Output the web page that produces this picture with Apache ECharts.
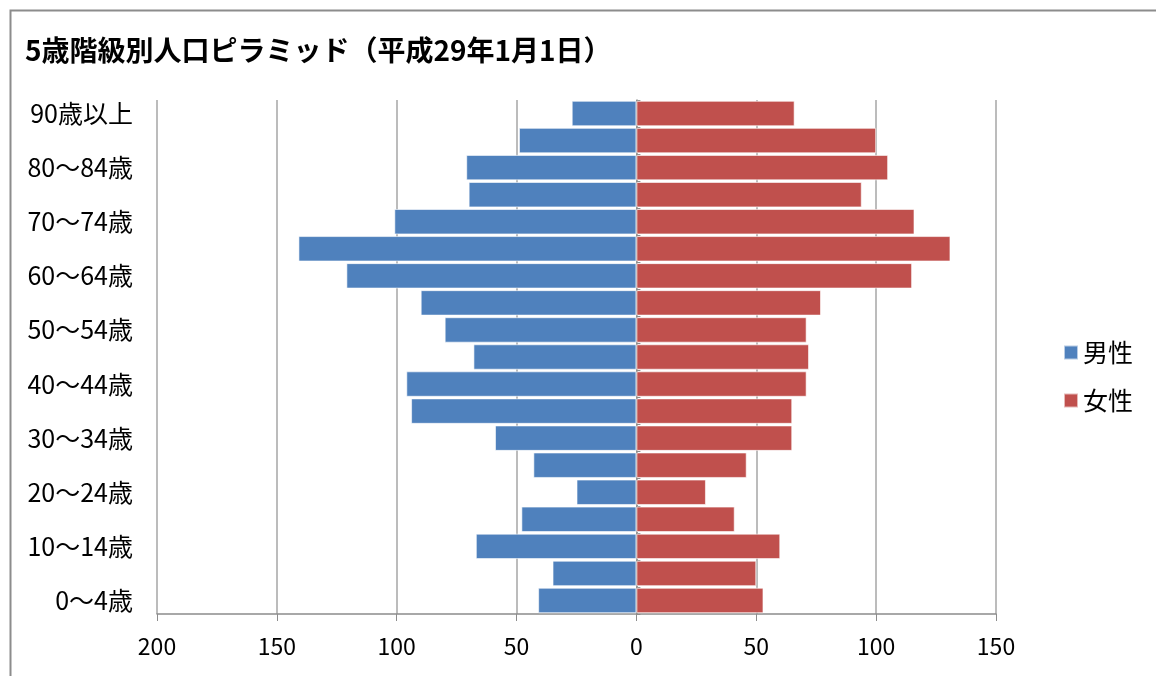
<!DOCTYPE html>
<html>
<head>
<meta charset="utf-8">
<script src="https://cdn.jsdelivr.net/npm/echarts@6/dist/echarts.min.js"></script>
<style>
  html, body { margin: 0; padding: 0; background: #fff; }
  #chart { width: 1156px; height: 676px; }
</style>
</head>
<body>
<div id="chart"></div>
<script>
// 年齢階級（下から上へ）
const ageGroups = [
  '0～4歳', '5～9歳', '10～14歳', '15～19歳', '20～24歳', '25～29歳',
  '30～34歳', '35～39歳', '40～44歳', '45～49歳', '50～54歳', '55～59歳',
  '60～64歳', '65～69歳', '70～74歳', '75～79歳', '80～84歳', '85～89歳', '90歳以上'
]
const maleCounts = [41, 35, 67, 48, 25, 43, 59, 94, 96, 68, 80, 90, 121, 141, 101, 70, 71, 49, 27]
const femaleCounts = [53, 50, 60, 41, 29, 46, 65, 65, 71, 72, 71, 77, 115, 131, 116, 94, 105, 100, 66]
const xTicks = { min: -200, max: 150, step: 50 }

const FONT = '"Noto Sans CJK JP", "Noto Sans", sans-serif'

const chart = echarts.init(document.getElementById('chart'))
chart.setOption({
  animation: false,
  title: {
    text: '5歳階級別人口ピラミッド（平成29年1月1日）',
    left: 20,
    top: 31,
    textStyle: { fontFamily: FONT, fontSize: 28, fontWeight: 'bold', color: '#000' }
  },
  legend: {
    orient: 'vertical',
    left: 1058,
    top: 335,
    itemWidth: 14,
    itemHeight: 14,
    itemGap: 23,
    icon: 'rect',
    textStyle: { fontFamily: FONT, fontSize: 25, color: '#000' },
    data: ['男性', '女性']
  },
  grid: {
    left: 157,
    right: 160,
    top: 100,
    bottom: 62,
    containLabel: false
  },
  xAxis: {
    type: 'value',
    min: xTicks.min,
    max: xTicks.max,
    interval: xTicks.step,
    axisLine: { show: true, onZero: false, lineStyle: { color: '#8c8c8c', width: 1.5 } },
    axisTick: { show: true, length: 7, lineStyle: { color: '#8c8c8c' } },
    splitLine: { show: true, lineStyle: { color: '#a6a6a6', width: 1.5 } },
    axisLabel: {
      fontFamily: FONT,
      fontSize: 23,
      color: '#000',
      margin: 21,
      formatter: function (value) {
        return Math.abs(value)
      }
    }
  },
  yAxis: [
    {
      type: 'category',
      data: ageGroups,
      position: 'left',
      axisLine: { show: false, onZero: false },
      axisTick: { show: false },
      axisLabel: {
        interval: 1,
        fontFamily: FONT,
        fontSize: 25,
        color: '#000',
        margin: 24
      }
    },
    {
      type: 'category',
      data: ageGroups,
      axisLine: { show: true, onZero: true, lineStyle: { color: '#8c8c8c', width: 1.5 } },
      axisTick: { show: true, length: 4, inside: false, lineStyle: { color: '#8c8c8c' } },
      axisLabel: { show: false }
    }
  ],
  series: [
    {
      name: '男性',
      type: 'bar',
      yAxisIndex: 0,
      barGap: '-100%',
      barCategoryGap: '6%',
      itemStyle: { color: '#4F81BD', borderColor: 'rgba(255,255,255,0.6)', borderWidth: 1 },
      data: maleCounts.map(v => -v)
    },
    {
      name: '女性',
      type: 'bar',
      yAxisIndex: 0,
      barGap: '-100%',
      barCategoryGap: '6%',
      itemStyle: { color: '#C0504D', borderColor: 'rgba(255,255,255,0.6)', borderWidth: 1 },
      data: femaleCounts
    }
  ],
  graphic: [
    {
      type: 'rect',
      left: 8,
      top: 8,
      shape: { width: 1170, height: 700 },
      style: { fill: 'none', stroke: '#8c8c8c', lineWidth: 2 },
      silent: true
    }
  ]
})
</script>
</body>
</html>
